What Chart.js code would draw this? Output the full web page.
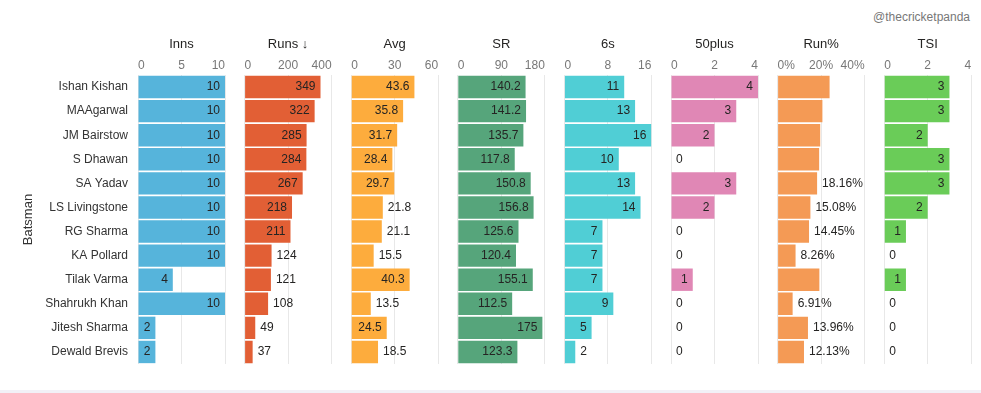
<!DOCTYPE html>
<html>
<head>
<meta charset="utf-8">
<script src="https://cdn.jsdelivr.net/npm/chart.js@4.4.1/dist/chart.umd.min.js"></script>
<style>
  html, body { margin:0; padding:0; background:#fff; }
  #wrap { position:relative; width:981px; height:393px; overflow:hidden; }
  #wrap canvas { position:absolute; left:0; top:0; }
  #credit { position:absolute; right:11px; top:10px; font:12px 'Liberation Sans', Arial, sans-serif; color:#777; }
  #foot { position:absolute; left:0; top:390px; width:981px; height:3px; background:#f2f1f7; }
</style>
</head>
<body>
<div id="wrap">
  <div id="credit">@thecricketpanda</div>
  <div id="foot"></div>
</div>
<script>
const batsmen = ["Ishan Kishan","MAAgarwal","JM Bairstow","S Dhawan","SA Yadav","LS Livingstone",
                 "RG Sharma","KA Pollard","Tilak Varma","Shahrukh Khan","Jitesh Sharma","Dewald Brevis"];
const inns    = [10,10,10,10,10,10,10,10,4,10,2,2];
const runs    = [349,322,285,284,267,218,211,124,121,108,49,37];
const avg     = [43.6,35.8,31.7,28.4,29.7,21.8,21.1,15.5,40.3,13.5,24.5,18.5];
const sr      = [140.2,141.2,135.7,117.8,150.8,156.8,125.6,120.4,155.1,112.5,175,123.3];
const sixes   = [11,13,16,10,13,14,7,7,7,9,5,2];
const fifties = [4,3,2,0,3,2,0,0,1,0,0,0];
const runPct  = [23.9,20.6,19.6,19.1,18.16,15.08,14.45,8.26,19.2,6.91,13.96,12.13];
const tsi     = [3,3,2,3,3,2,1,0,1,0,0,0];

const panelTitles = ["Inns","Runs ↓","Avg","SR","6s","50plus","Run%","TSI"];
const panelData   = [inns, runs, avg, sr, sixes, fifties, runPct, tsi];
const axisMax     = [10, 400, 60, 180, 16, 4, 40, 4];
const axisStep    = [5, 200, 30, 90, 8, 2, 20, 2];
const colors      = ["#56b4db","#e25f35","#fdac3d","#56a57b","#50ced5","#e087b5","#f49a55","#6acc58"];

const FONT = "'Liberation Sans', Arial, sans-serif";
Chart.defaults.font.family = FONT;
Chart.defaults.devicePixelRatio = 1;

const W = 981, H = 393;
const AREA_TOP = 75, AREA_BOTTOM = 364;

// value labels: inside end when they fit, else outside, hidden if they spill past the axis
function labelPlugin(fmt, allowInside) {
  return {
    id: 'vlabels',
    afterDatasetsDraw(chart) {
      const ctx = chart.ctx;
      const meta = chart.getDatasetMeta(0);
      const vals = chart.data.datasets[0].data;
      ctx.save();
      ctx.font = "12px " + FONT;
      ctx.fillStyle = "#252423";
      ctx.textBaseline = "middle";
      meta.data.forEach((el, i) => {
        const txt = fmt(vals[i]);
        const w = ctx.measureText(txt).width;
        const len = el.x - el.base;
        if (allowInside && w + 9 <= len) {
          ctx.textAlign = "right";
          ctx.fillText(txt, el.x - 5, el.y);
        } else if (el.x + 5 + w <= chart.chartArea.right) {
          ctx.textAlign = "left";
          ctx.fillText(txt, el.x + 5, el.y);
        }
      });
      ctx.restore();
    }
  };
}

const wrap = document.getElementById('wrap');
panelTitles.forEach((title, p) => {
  const left = 138 + p * 106.6;
  const right = left + 87;
  const cv = document.createElement('canvas');
  cv.width = W; cv.height = H;
  wrap.appendChild(cv);
  const isPct = p === 6;
  const fmt = isPct ? v => v.toFixed(2) + "%" : v => String(v);
  new Chart(cv, {
    type: 'bar',
    data: {
      labels: batsmen,
      datasets: [{ data: panelData[p], backgroundColor: colors[p],
                   barPercentage: 0.93, categoryPercentage: 1 }]
    },
    options: {
      indexAxis: 'y',
      responsive: false,
      animation: false,
      events: [],
      layout: { padding: { left: p === 0 ? 0 : left, right: W - right, top: 0, bottom: H - AREA_BOTTOM } },
      plugins: { legend: { display: false }, tooltip: { enabled: false } },
      scales: {
        x: {
          position: 'top',
          min: 0, max: axisMax[p],
          afterFit: s => { s.height = AREA_TOP; },
          ticks: {
            stepSize: axisStep[p], align: 'inner', padding: 2, color: '#777',
            font: { size: 12 },
            callback: v => isPct ? v + '%' : v
          },
          grid: { color: '#e8e8e8', drawTicks: false },
          border: { display: false },
          title: { display: true, text: title, color: '#252423', font: { size: 13 },
                   padding: { top: 37, bottom: 0 } }
        },
        y: p === 0 ? {
          afterFit: s => { s.width = 138; },
          ticks: { color: '#333', font: { size: 12 }, padding: 2 },
          grid: { display: false },
          border: { display: false },
          title: { display: true, text: 'Batsman', color: '#333', font: { size: 13 },
                   padding: { top: 21, bottom: 0 } }
        } : { display: false }
      }
    },
    plugins: [labelPlugin(fmt, !isPct)]
  });
});
</script>
</body>
</html>
